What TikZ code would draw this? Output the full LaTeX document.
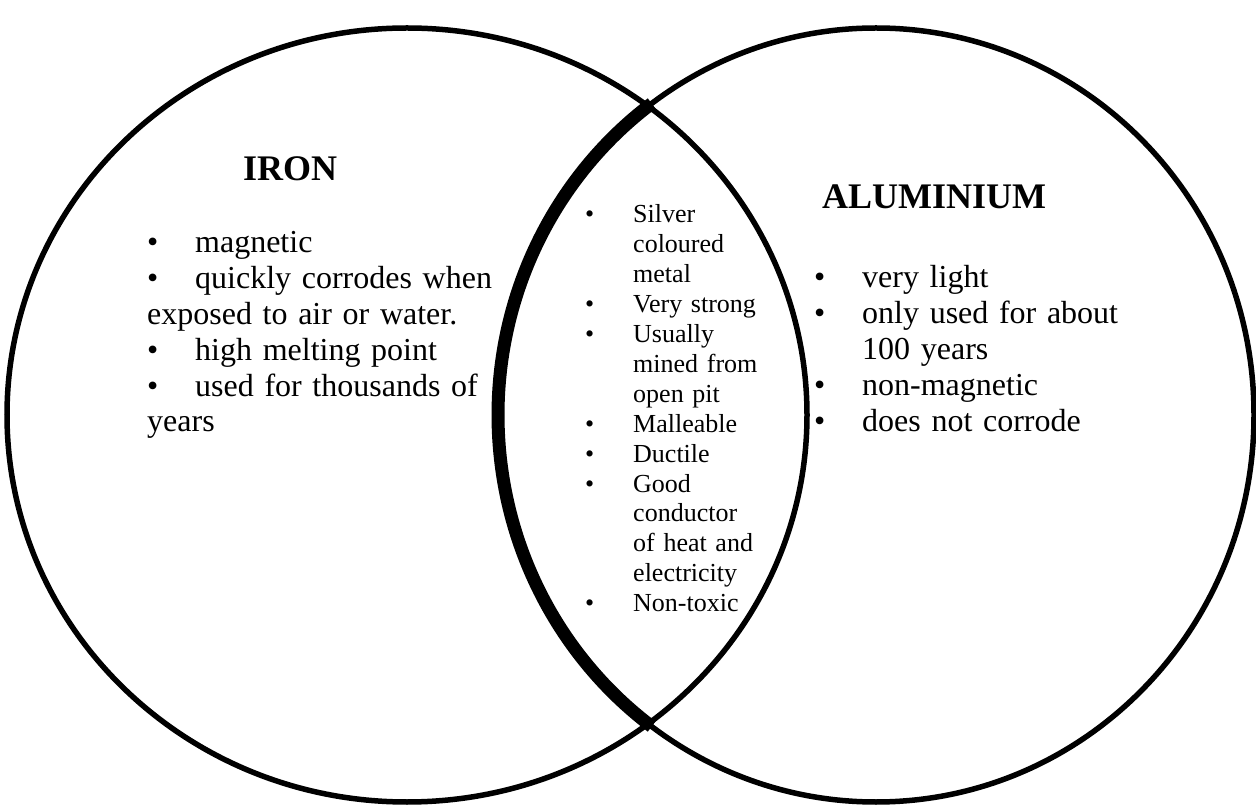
\documentclass[tikz,border=0pt]{standalone}
\usepackage{fontspec}
\setmainfont{Liberation Serif}
\newcommand{\itembul}{\makebox[48pt][l]{\textbullet}}
\begin{document}
\begin{tikzpicture}[x=1pt,y=1pt,
    setline/.style={line width=5.5pt},
    lensline/.style={line width=13pt},
    head/.style={anchor=base west,inner sep=0pt,font=\fontsize{36}{40}\selectfont\bfseries},
    items/.style={anchor=base west,inner sep=0pt,align=left,text width=#1,
      font=\fontsize{32}{35.8}\selectfont},
    lensitems/.style={anchor=base west,inner sep=0pt,align=left,text width=#1,
      font=\fontsize{26}{29.9}\selectfont}]
    \useasboundingbox (0,0) rectangle (1256,804);
    % the two sets
    \draw[setline] (407,389) ellipse [x radius=400, y radius=387];
    \draw[setline] (876,389) ellipse [x radius=378, y radius=387];
    \draw[lensline] (876,389) ++(126.4:378 and 387)
      arc[start angle=126.4, end angle=233.6, x radius=378, y radius=387];
    % iron
    \node[head] (ironhead) at (243,623) {IRON};
    \node[items=360pt] (ironlist) at (147,551) {\itembul magnetic\\
      \itembul quickly corrodes when\\
      exposed to air or water.\\
      \itembul high melting point\\
      \itembul used for thousands of\\
      years};
    % aluminium
    \node[head] (aluhead) at (822,595) {ALUMINIUM};
    \node[items=400pt] (alulist) at (814,516) {\itembul very light\\
      \itembul only used for about\\
      \hspace*{48pt}100 years\\
      \itembul non-magnetic\\
      \itembul does not corrode};
    % both
    \node[lensitems=200pt] (bothlist) at (585,581) {\itembul Silver\\
      \hspace*{48pt}coloured\\
      \hspace*{48pt}metal\\
      \itembul Very strong\\
      \itembul Usually\\
      \hspace*{48pt}mined from\\
      \hspace*{48pt}open pit\\
      \itembul Malleable\\
      \itembul Ductile\\
      \itembul Good\\
      \hspace*{48pt}conductor\\
      \hspace*{48pt}of heat and\\
      \hspace*{48pt}electricity\\
      \itembul Non-toxic};
\end{tikzpicture}
\end{document}
